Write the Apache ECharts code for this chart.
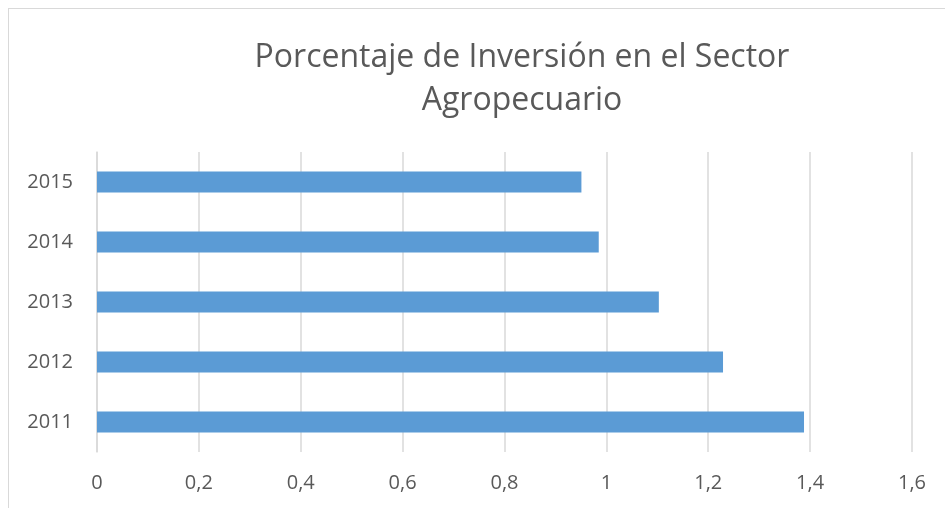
<!DOCTYPE html>
<html>
<head>
<meta charset="utf-8">
<script src="https://cdn.jsdelivr.net/npm/echarts@6/dist/echarts.min.js"></script>
<style>
  html, body { margin: 0; padding: 0; background: #fff; }
  #wrap { position: relative; width: 945px; height: 508px; overflow: hidden; }
  #frame { position: absolute; left: 8px; top: 8px; width: 960px; height: 520px;
           border-top: 1px solid #d9d9d9; border-left: 1px solid #d9d9d9; }
  #chart { position: absolute; left: 0; top: 0; width: 945px; height: 508px; }
</style>
</head>
<body>
<div id="wrap">
  <div id="frame"></div>
  <div id="chart"></div>
</div>
<script>
const titleText = 'Porcentaje de Inversión en el Sector\nAgropecuario';
const categories = ['2011', '2012', '2013', '2014', '2015'];
const values = [1.388, 1.229, 1.103, 0.985, 0.951];
const xTicks = { min: 0, max: 1.6, interval: 0.2 };

const chart = echarts.init(document.getElementById('chart'), null, { renderer: 'canvas' });
chart.setOption({
  backgroundColor: 'transparent',
  animation: false,
  title: {
    text: titleText,
    left: 517,
    textAlign: 'center',
    top: 31,
    textStyle: {
      fontFamily: 'Open Sans',
      fontWeight: 'normal',
      fontSize: 32,
      lineHeight: 43,
      color: '#595959'
    }
  },
  grid: { left: 97, right: 33, top: 152, bottom: 56, containLabel: false },
  xAxis: {
    type: 'value',
    min: xTicks.min,
    max: xTicks.max,
    interval: xTicks.interval,
    axisLine: { show: false },
    axisTick: { show: false },
    splitLine: { show: true, lineStyle: { color: '#d9d9d9', width: 1.5 } },
    axisLabel: {
      margin: 21,
      fontFamily: 'Open Sans',
      fontSize: 20,
      color: '#595959',
      formatter: v => String(Math.round(v * 10) / 10).replace('.', ',')
    }
  },
  yAxis: {
    type: 'category',
    data: categories,
    axisLine: { show: true, lineStyle: { color: '#d9d9d9', width: 1.5 } },
    axisTick: { show: false },
    splitLine: { show: false },
    axisLabel: {
      margin: 24,
      fontFamily: 'Open Sans',
      fontSize: 20,
      color: '#595959'
    }
  },
  series: [{
    type: 'bar',
    data: values,
    barWidth: 21,
    itemStyle: { color: '#5b9bd5' }
  }]
});
</script>
</body>
</html>
